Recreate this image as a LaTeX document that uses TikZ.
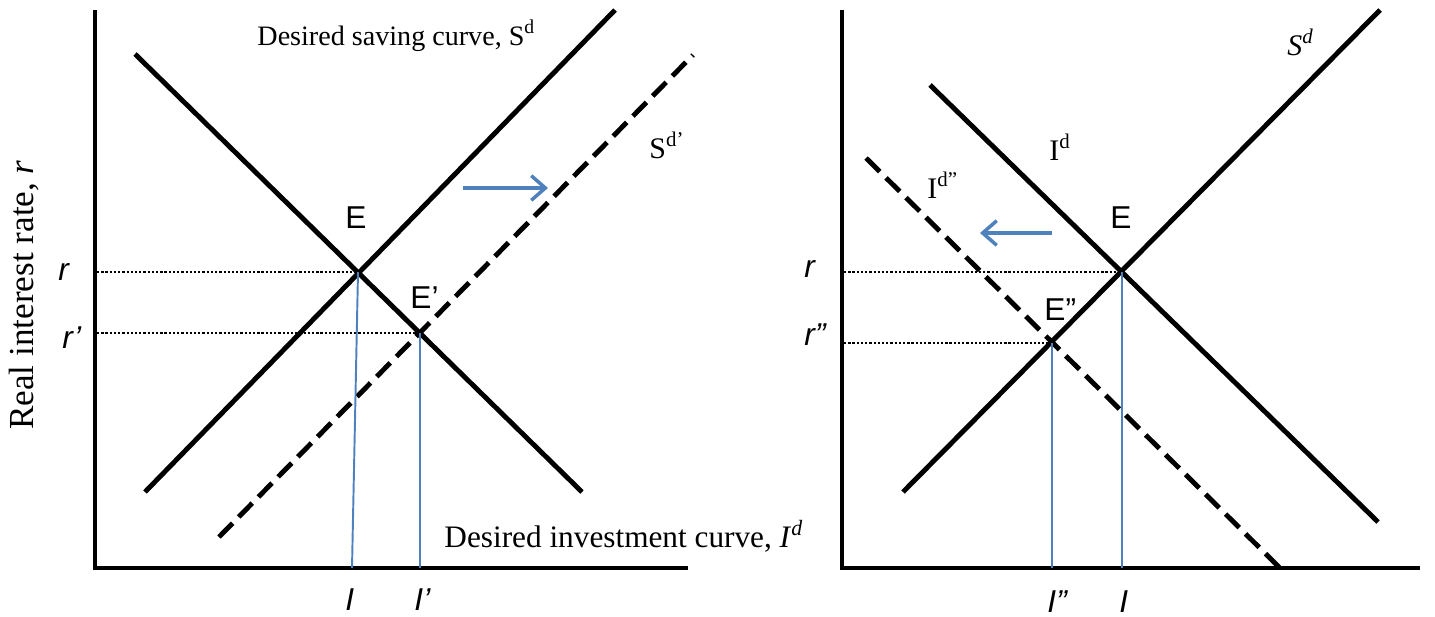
\documentclass[tikz,border=0pt]{standalone}
\usepackage{fontspec}
\setmainfont{Liberation Serif}
\newfontfamily\arialfont{Liberation Sans}
\usetikzlibrary{arrows.meta, positioning}
\definecolor{dropblue}{RGB}{79, 129, 189}

\begin{document}
\begin{tikzpicture}[x=0.02cm, y=-0.02cm, line width=2.8pt,
    curve/.style={line width=2.8pt},
    shiftcurve/.style={line width=2.8pt, dash pattern=on 11pt off 5pt},
    guide/.style={line width=1.3pt, dash pattern=on 1.3pt off 1.1pt},
    dropline/.style={dropblue, line width=1.1pt},
    movearrow/.style={dropblue, line width=2pt, -{Straight Barb[length=8pt, width=14pt]}},
    sanslabel/.style={font=\arialfont\fontsize{18}{20}\selectfont, inner sep=0pt},
    seriflabel/.style={font=\fontsize{17}{20}\selectfont, inner sep=0pt}]
    \useasboundingbox (0,0) rectangle (1435,616);

    % 左图：坐标轴
    \coordinate (LYtop) at (95,10);
    \coordinate (LO) at (95,568);
    \coordinate (LXend) at (688,568);
    \draw[curve, line join=miter] (LYtop) -- (LO) -- (LXend);
    \node[rotate=90, font=\fontsize{20}{22}\selectfont] (ylab) at (24,295) {Real interest rate, \textit{r}};

    % 左图：曲线
    \coordinate (LSa) at (145,492);
    \coordinate (LSb) at (615,10);
    \coordinate (LSpa) at (219,537);
    \coordinate (LSpb) at (693,55);
    \coordinate (LIa) at (135,54);
    \coordinate (LIb) at (582,492);
    \draw[curve] (LSa) -- (LSb);
    \draw[shiftcurve] (LSpa) -- (LSpb);
    \draw[curve] (LIa) -- (LIb);

    % 左图：均衡点
    \coordinate (LE) at (358,272);
    \coordinate (LEp) at (420,333);
    \coordinate (LEx) at (352,568);
    \coordinate (LEpx) at (420,568);
    \draw[guide] (LE -| LO) ++(2,0) -- (LE);
    \draw[guide] (LEp -| LO) ++(2,0) -- (LEp);
    \draw[dropline] (LE) -- (LEx);
    \draw[dropline] (LEp) -- (LEpx);

    % 左图：移动箭头
    \coordinate (LMa) at (463,188);
    \coordinate (LMb) at (548,188);
    \draw[movearrow] (LMa) -- (LMb);

    % 左图：标签
    \node[seriflabel, font=\fontsize{16}{19}\selectfont, anchor=base west] (sdtext) at (255,45) {Desired saving curve, S\textsuperscript{d}};
    \node[seriflabel, anchor=base west] (sdptext) at (647,158) {S\textsuperscript{d’}};
    \node[seriflabel, font=\fontsize{17.8}{20}\selectfont, anchor=base west] (idtext) at (442,547) {Desired investment curve, \textit{I}\textsuperscript{\textit{d}}};
    \node[sanslabel, anchor=base west] (LElab) at (343,228) {E};
    \node[sanslabel, anchor=base west] (LEplab) at (408,308) {E’};
    \node[sanslabel, anchor=base west] (Lr) at (56,280) {\textit{r}};
    \node[sanslabel, anchor=base west] (Lrp) at (60,348) {\textit{r’}};
    \node[sanslabel, anchor=base west] (LIlab) at (343,610) {\textit{I}};
    \node[sanslabel, anchor=base west] (LIplab) at (412,610) {\textit{I’}};

    % 右图：坐标轴
    \coordinate (RYtop) at (842,10);
    \coordinate (RO) at (842,568);
    \coordinate (RXend) at (1420,568);
    \draw[curve, line join=miter] (RYtop) -- (RO) -- (RXend);

    % 右图：曲线
    \coordinate (RSa) at (903,492);
    \coordinate (RSb) at (1380,10);
    \coordinate (RIa) at (930,85);
    \coordinate (RIb) at (1378,522);
    \coordinate (RIpa) at (866,158);
    \coordinate (RIpb) at (1280,568);
    \draw[curve] (RSa) -- (RSb);
    \draw[curve] (RIa) -- (RIb);
    \draw[shiftcurve] (RIpa) -- (RIpb);

    % 右图：均衡点
    \coordinate (RE) at (1122,272);
    \coordinate (REpp) at (1052,343);
    \draw[guide] (RE -| RO) ++(2,0) -- (RE);
    \draw[guide] (REpp -| RO) ++(2,0) -- (REpp);
    \draw[dropline] (RE) -- (RE |- RO);
    \draw[dropline] (REpp) -- (REpp |- RO);

    % 右图：移动箭头
    \coordinate (RMa) at (1052,233);
    \coordinate (RMb) at (980,233);
    \draw[movearrow] (RMa) -- (RMb);

    % 右图：标签
    \node[seriflabel, anchor=base west] (Rsd) at (1285,55) {\textit{S\textsuperscript{d}}};
    \node[seriflabel, anchor=base west] (Rid) at (1047,160) {I\textsuperscript{d}};
    \node[seriflabel, anchor=base west] (Ridpp) at (925,198) {I\textsuperscript{d”}};
    \node[sanslabel, anchor=base west] (RElab) at (1108,228) {E};
    \node[sanslabel, anchor=base west] (REpplab) at (1042,320) {E”};
    \node[sanslabel, anchor=base west] (Rr) at (802,277) {\textit{r}};
    \node[sanslabel, anchor=base west] (Rrpp) at (802,345) {\textit{r”}};
    \node[sanslabel, anchor=base west] (RIpplab) at (1045,612) {\textit{I”}};
    \node[sanslabel, anchor=base west] (RIlab) at (1117,612) {\textit{I}};
\end{tikzpicture}
\end{document}
